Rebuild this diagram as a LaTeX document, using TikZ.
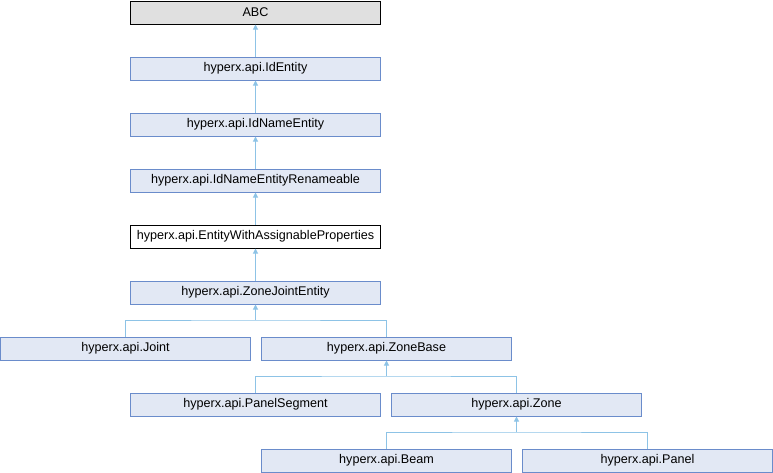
\documentclass[tikz,border=0pt]{standalone}
\usepackage{fontspec}
\setmainfont{Liberation Sans}
\usetikzlibrary{arrows.meta}
\definecolor{boxfill}{HTML}{E2E8F4}
\definecolor{boxline}{HTML}{6A8CCB}
\definecolor{edgecol}{HTML}{8DC3E6}
\definecolor{abcfill}{HTML}{E0E0E0}
\begin{document}
\begin{tikzpicture}[x=1pt,y=-1pt,
  cls/.style={draw=boxline, fill=boxfill, line width=1pt, minimum width=250pt, minimum height=23pt, inner sep=0pt, font=\fontsize{12.6}{14}\selectfont},
  cur/.style={cls, draw=black, fill=white},
  ext/.style={cls, draw=black, fill=abcfill},
  edge/.style={draw=edgecol, line width=1pt},
  inh/.style={edge, -{Triangle[width=5pt,length=5pt]}}]
\useasboundingbox (0,0) rectangle (773,472);
\node[ext] (abc) at (255.5,12.5) {ABC};
\node[cls] (ide) at (255.5,68.5) {hyperx.api.IdEntity};
\node[cls] (idn) at (255.5,124.5) {hyperx.api.IdNameEntity};
\node[cls] (idr) at (255.5,180.5) {hyperx.api.IdNameEntityRenameable};
\node[cur] (ewap) at (255.5,236.5) {hyperx.api.EntityWithAssignableProperties};
\node[cls] (zje) at (255.5,292.5) {hyperx.api.ZoneJointEntity};
\node[cls] (joint) at (125.5,348.5) {hyperx.api.Joint};
\node[cls] (zb) at (386.5,348.5) {hyperx.api.ZoneBase};
\node[cls] (ps) at (255.5,404.5) {hyperx.api.PanelSegment};
\node[cls] (zone) at (516.5,404.5) {hyperx.api.Zone};
\node[cls] (beam) at (386.5,460.5) {hyperx.api.Beam};
\node[cls] (panel) at (647.5,460.5) {hyperx.api.Panel};
\coordinate (b1) at (255.5,320);
\coordinate (b2) at (386.5,376);
\coordinate (b3) at (516.5,432);
\draw[inh] (ide.north) -- (abc.south);
\draw[inh] (idn.north) -- (ide.south);
\draw[inh] (idr.north) -- (idn.south);
\draw[inh] (ewap.north) -- (idr.south);
\draw[inh] (zje.north) -- (ewap.south);
\draw[edge] (joint.north) |- (b1) -| (zb.north);
\draw[inh] (b1) -- (zje.south);
\draw[edge] (ps.north) |- (b2) -| (zone.north);
\draw[inh] (b2) -- (zb.south);
\draw[edge] (beam.north) |- (b3) -| (panel.north);
\draw[inh] (b3) -- (zone.south);
\end{tikzpicture}
\end{document}
